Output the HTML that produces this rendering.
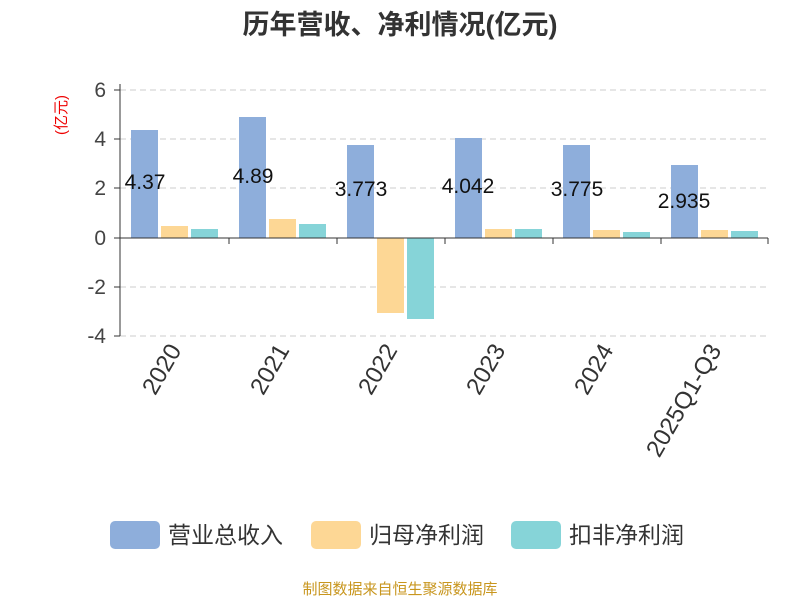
<!DOCTYPE html>
<html><head><meta charset="utf-8"><style>body{margin:0;background:#fff}svg{display:block}</style></head><body>
<svg width="800" height="600" xmlns="http://www.w3.org/2000/svg" font-family="Liberation Sans, Noto Sans CJK SC, sans-serif">
<text x="400" y="34" text-anchor="middle" font-size="27" font-weight="bold" fill="#333">历年营收、净利情况(亿元)</text>
<text transform="translate(66,115) rotate(-90)" text-anchor="middle" font-size="15" fill="#e00">(亿元)</text>
<g stroke="#ccc" stroke-dasharray="6,4">
<line x1="120" y1="90" x2="768" y2="90"/><line x1="120" y1="139" x2="768" y2="139"/><line x1="120" y1="188" x2="768" y2="188"/><line x1="120" y1="287" x2="768" y2="287"/><line x1="120" y1="336" x2="768" y2="336"/>
</g>
<g font-size="21" fill="#444" text-anchor="end">
<text x="106" y="97">6</text><text x="106" y="146">4</text><text x="106" y="195">2</text><text x="106" y="245">0</text><text x="106" y="294">-2</text><text x="106" y="343">-4</text>
</g>
<g stroke="#333"><line x1="120" y1="84" x2="120" y2="336"/>
<line x1="114" y1="90" x2="120" y2="90"/><line x1="114" y1="139" x2="120" y2="139"/><line x1="114" y1="188" x2="120" y2="188"/><line x1="114" y1="238" x2="120" y2="238"/><line x1="114" y1="287" x2="120" y2="287"/><line x1="114" y1="336" x2="120" y2="336"/></g>
<g fill="#8eaedb">
<rect x="131" y="130" width="27" height="108"/><rect x="239" y="117" width="27" height="121"/><rect x="347" y="145" width="27" height="93"/><rect x="455" y="138" width="27" height="100"/><rect x="563" y="145" width="27" height="93"/><rect x="671" y="165" width="27" height="73"/>
</g>
<g fill="#fdd795">
<rect x="161" y="226" width="27" height="12"/><rect x="269" y="219" width="27" height="19"/><rect x="377" y="238" width="27" height="75"/><rect x="485" y="229" width="27" height="9"/><rect x="593" y="230" width="27" height="8"/><rect x="701" y="230" width="27" height="8"/>
</g>
<g fill="#86d4d8">
<rect x="191" y="229" width="27" height="9"/><rect x="299" y="224" width="27" height="14"/><rect x="407" y="238" width="27" height="81"/><rect x="515" y="229" width="27" height="9"/><rect x="623" y="232" width="27" height="6"/><rect x="731" y="231" width="27" height="7"/>
</g>
<g stroke="#333"><line x1="120" y1="238" x2="768" y2="238"/>
<line x1="229" y1="238" x2="229" y2="244"/><line x1="337" y1="238" x2="337" y2="244"/><line x1="445" y1="238" x2="445" y2="244"/><line x1="553" y1="238" x2="553" y2="244"/><line x1="661" y1="238" x2="661" y2="244"/><line x1="768" y1="238" x2="768" y2="244"/></g>
<g font-size="21" fill="#111" text-anchor="middle">
<text x="145" y="189">4.37</text><text x="253" y="183">4.89</text><text x="361" y="196">3.773</text><text x="468" y="193">4.042</text><text x="577" y="196">3.775</text><text x="684" y="208">2.935</text>
</g>
<g font-size="24" fill="#333" text-anchor="end">
<text transform="translate(182,350) rotate(-60)">2020</text>
<text transform="translate(290,350) rotate(-60)">2021</text>
<text transform="translate(398,350) rotate(-60)">2022</text>
<text transform="translate(506,350) rotate(-60)">2023</text>
<text transform="translate(614,350) rotate(-60)">2024</text>
<text transform="translate(722,350) rotate(-60)">2025Q1-Q3</text>
</g>
<rect x="110" y="521" width="50" height="28" rx="5" fill="#8eaedb"/>
<text x="168" y="543" font-size="23" fill="#333">营业总收入</text>
<rect x="311" y="521" width="50" height="28" rx="5" fill="#fdd795"/>
<text x="369" y="543" font-size="23" fill="#333">归母净利润</text>
<rect x="511" y="521" width="50" height="28" rx="5" fill="#86d4d8"/>
<text x="569" y="543" font-size="23" fill="#333">扣非净利润</text>
<text x="400" y="594" text-anchor="middle" font-size="15" fill="#c8961e">制图数据来自恒生聚源数据库</text>
</svg>
</body></html>
